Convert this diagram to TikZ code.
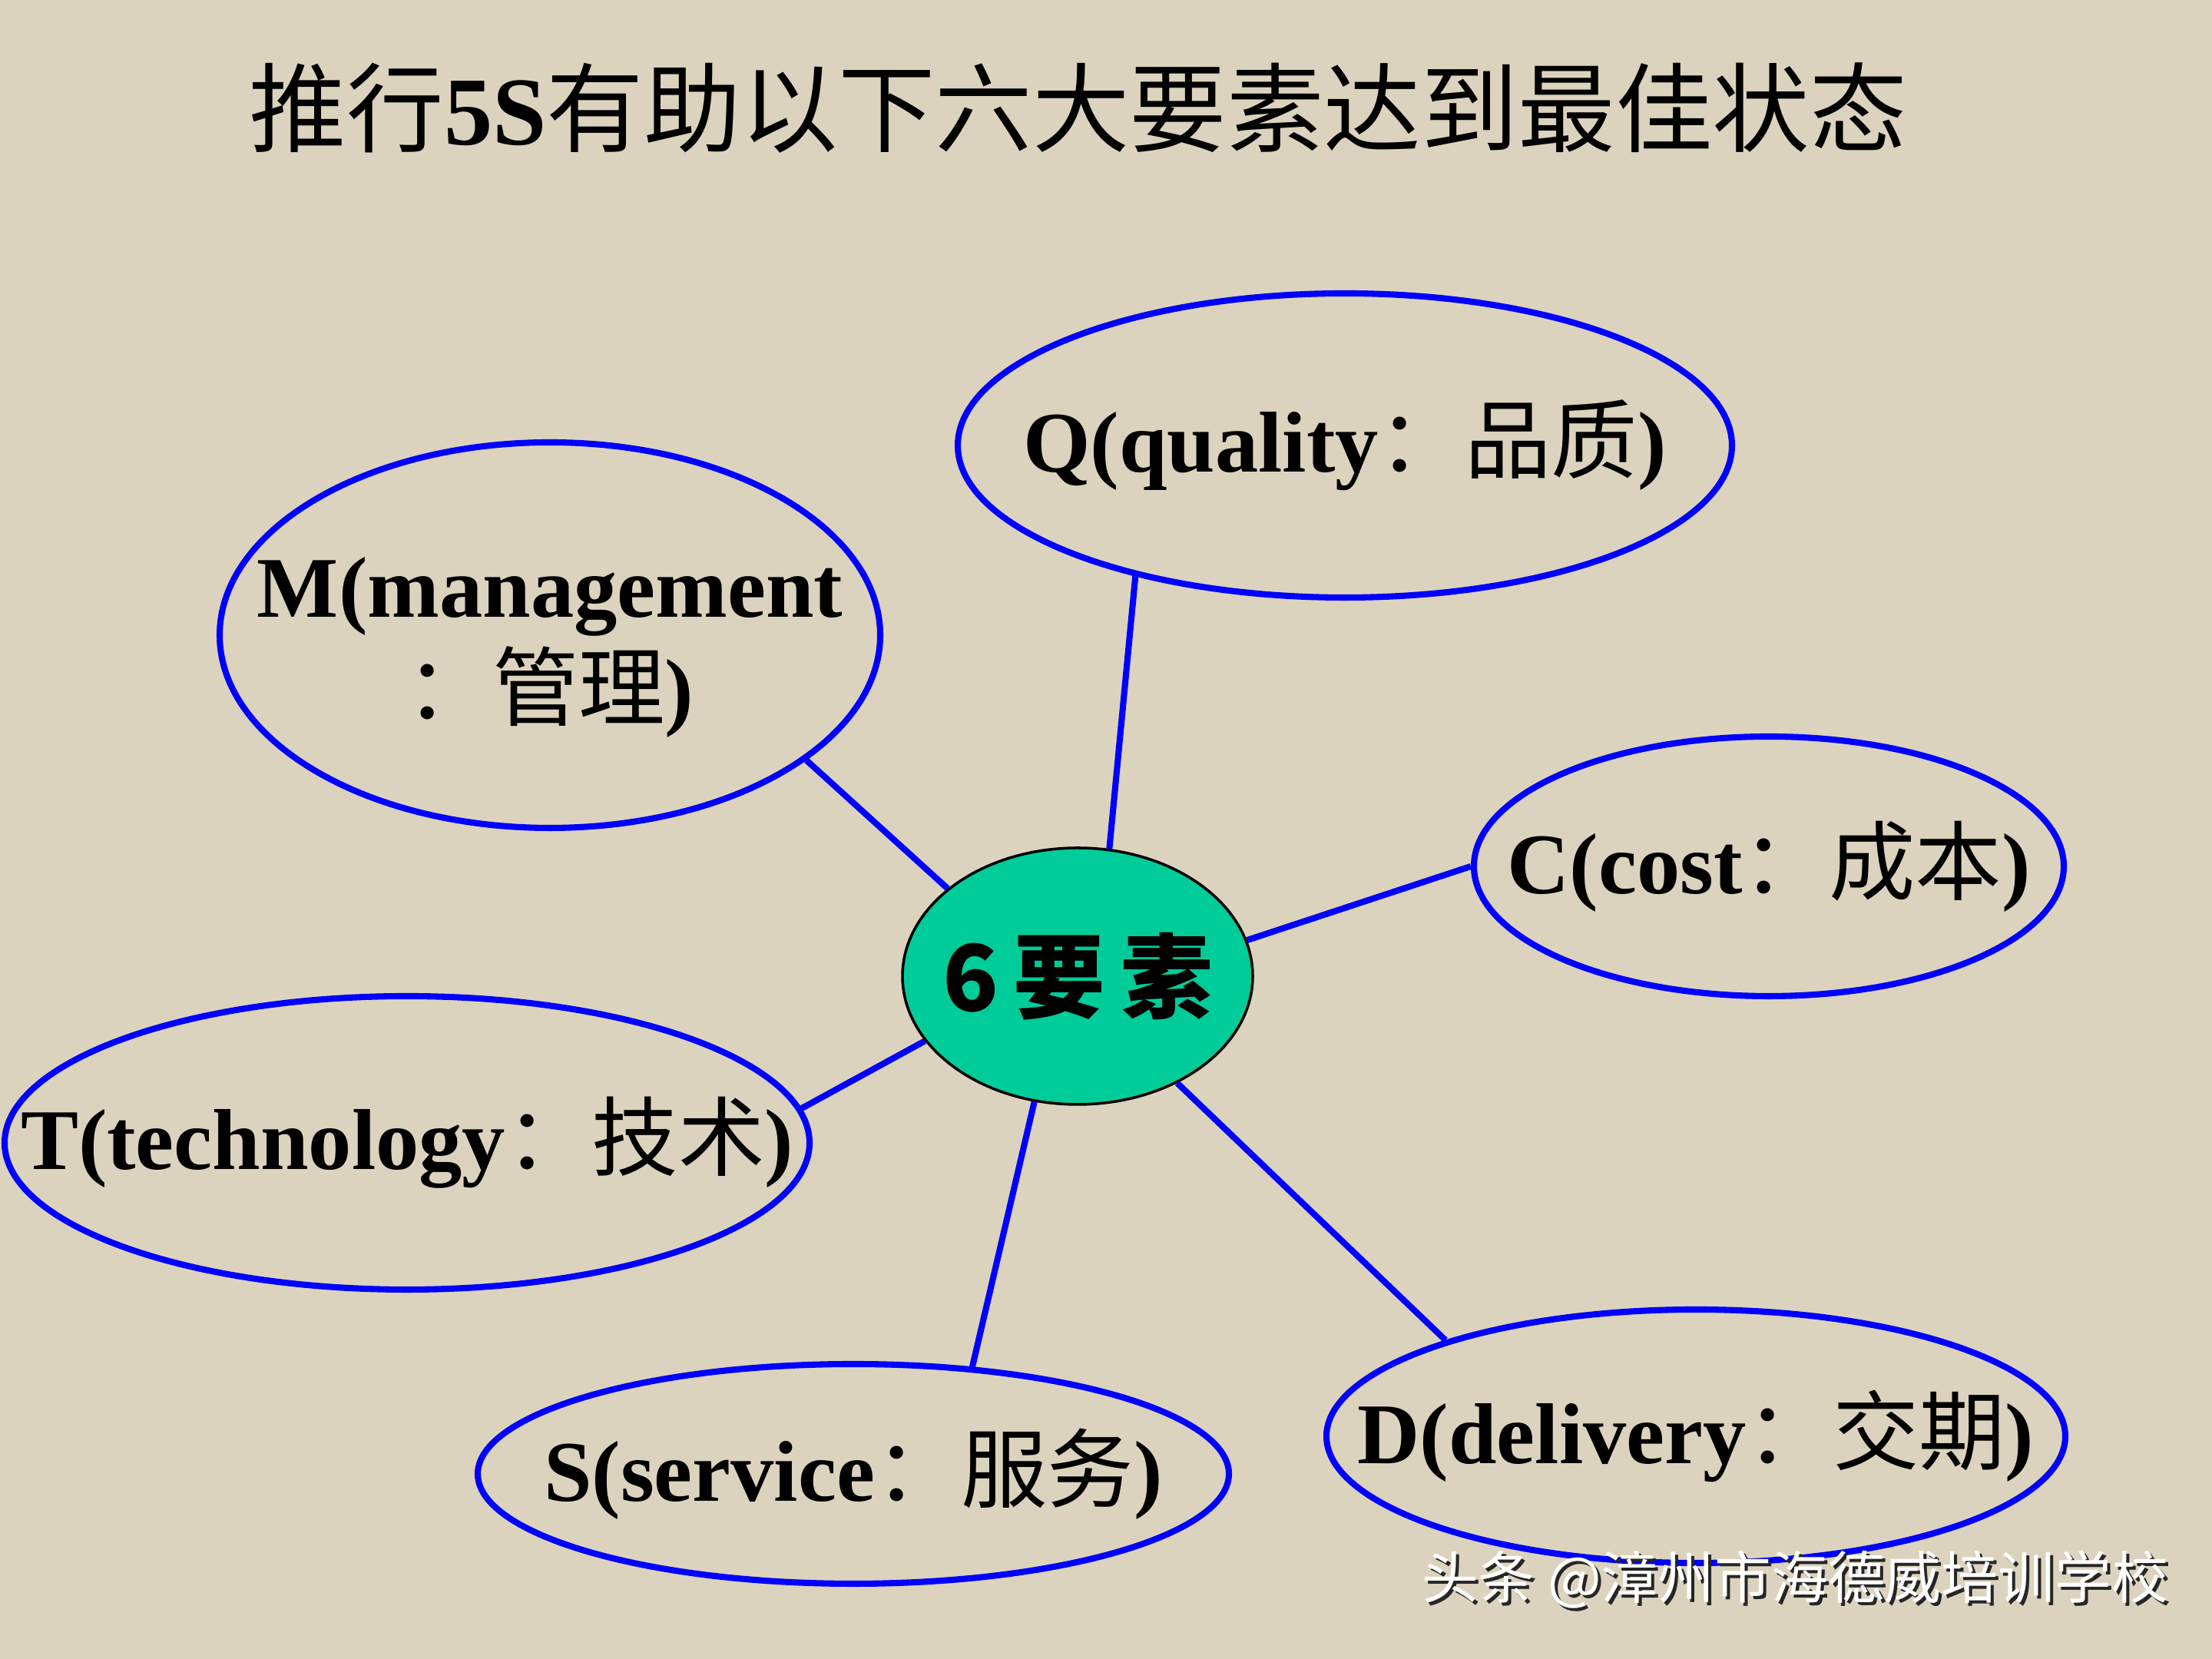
\documentclass[tikz,border=0pt]{standalone}
\usepackage{fontspec}
\setmainfont{Liberation Serif}
\newfontfamily\cjk{Noto Sans CJK SC}
\usetikzlibrary{shapes.geometric}

\definecolor{paper}{RGB}{220,211,190}
\definecolor{sixgreen}{RGB}{0,204,153}

% CJK words inside the Latin labels
\newcommand{\zh}[1]{{\cjk\mdseries #1}}
% label text that does not widen its ellipse
\newcommand{\lbl}[1]{\makebox[0pt]{#1}}

\begin{document}
\begin{tikzpicture}[
    factor/.style={ellipse, draw=blue, line width=2.3pt, inner sep=0pt,
        font=\fontsize{32}{36}\selectfont\bfseries},
    link/.style={draw=blue, line width=2.3pt}
]
                \useasboundingbox (0, 0) rectangle (28.8, 21.6);

                \fill[paper] (0, 0) rectangle (28.8, 21.6);

                \node (title) at (14.04, 20.19) {\fontsize{36}{40}\selectfont\cjk 推行{\rmfamily\bfseries 5S}有助以下六大要素达到最佳状态};

                % the six factors
                \node[factor, minimum width=10.08cm, minimum height=3.96cm] (q) at (17.51, 15.80) {\lbl{Q(quality\zh{：品质})}};

                \node[factor, minimum width=8.60cm, minimum height=5.02cm] (m) at (7.16, 13.33) {\lbl{\raisebox{-0.18cm}[\height][\depth]{\begin{tabular}{@{}c@{}}M(management\\\zh{：管理})\end{tabular}}}};

                \node[factor, minimum width=7.68cm, minimum height=3.38cm] (c) at (23.03, 10.32) {\lbl{C(cost\zh{：成本})}};

                \node[factor, minimum width=10.48cm, minimum height=3.82cm] (t) at (5.30, 6.72) {\lbl{T(technology\zh{：技术})}};

                \node[factor, minimum width=9.78cm, minimum height=2.86cm] (s) at (11.11, 2.41) {\lbl{S(service\zh{：服务})}};

                \node[factor, minimum width=9.62cm, minimum height=3.30cm] (d) at (22.08, 2.90) {\lbl{D(delivery\zh{：交期})}};

                % centre
                \node[ellipse, draw=black, line width=1pt, fill=sixgreen, inner sep=0pt,
                    minimum width=4.56cm, minimum height=3.34cm] (six) at (14.03, 8.89)
                    {\lbl{\fontsize{34}{38}\selectfont\cjk\bfseries 6\,要\,素}};

                \draw[link] (q.212) -- (six.76);

                \draw[link] (m.334) -- (six.146);

                \draw[link] (c.180) -- (six.12);

                \draw[link] (t.5) -- (six.203);

                \draw[link] (s.42) -- (six.251);

                \draw[link] (d.159) -- (six.313);

                % watermark
                \node[text=black!85] (markshadow) at (23.41, 0.99) {\fontsize{21}{24}\selectfont\cjk 头条 @漳州市海德威培训学校};

                \node[text=white] (mark) at (23.37, 1.03) {\fontsize{21}{24}\selectfont\cjk 头条 @漳州市海德威培训学校};
            \end{tikzpicture}
\end{document}
